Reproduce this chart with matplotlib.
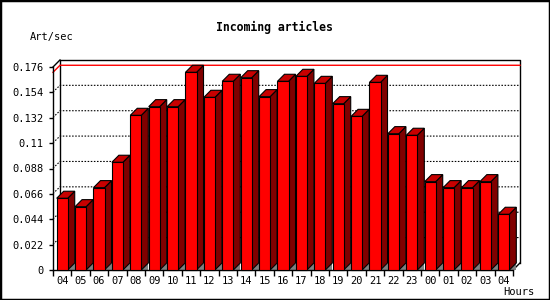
import matplotlib
matplotlib.use("Agg")
import matplotlib.pyplot as plt
from matplotlib.patches import Rectangle, Polygon

hours = ["04", "05", "06", "07", "08", "09", "10", "11", "12", "13", "14", "15",
         "16", "17", "18", "19", "20", "21", "22", "23", "00", "01", "02", "03", "04"]
art_per_sec = [0.0622, 0.0549, 0.0714, 0.0934, 0.1341, 0.1416, 0.1416, 0.1714,
               0.1497, 0.1636, 0.1667, 0.1503, 0.1636, 0.1679, 0.1618, 0.1442,
               0.1332, 0.1627, 0.1182, 0.1168, 0.0766, 0.0714, 0.0714, 0.0766, 0.0483]
yticks = [0, 0.022, 0.044, 0.066, 0.088, 0.11, 0.132, 0.154, 0.176]
ytick_labels = ["0", "0.022", "0.044", "0.066", "0.088", "0.11", "0.132", "0.154", "0.176"]

# depth of the fake 3d look (slot units / value units) and bar width
DX, DY = 0.38, 0.0061
BAR_W = 0.6
FONT = "DejaVu Sans Mono"

fig = plt.figure(figsize=(5.5, 3), dpi=100)
ax = fig.add_axes([53 / 550, 30 / 300, 460 / 550, 203 / 300])
n = len(hours)
ytop = yticks[-1]
ax.set_xlim(0, n)
ax.set_ylim(0, ytop)
ax.patch.set_visible(False)
ax.spines["top"].set_visible(False)
ax.spines["right"].set_visible(False)
ax.spines["left"].set_linewidth(1)
ax.spines["bottom"].set_linewidth(1)

# back wall
ax.plot([DX, DX, n + DX, n + DX], [DY, ytop + DY, ytop + DY, DY], color="black", lw=1, clip_on=False, zorder=1)
ax.plot([0, DX], [ytop, ytop + DY], color="black", lw=1, clip_on=False, zorder=1)
ax.plot([n, n + DX], [0, DY], color="black", lw=1, clip_on=False, zorder=1)

# dotted grid on the back wall
for t in yticks[1:-1]:
    ax.plot([0, DX, n + DX], [t + 0.0003, t + DY, t + DY], color="black", lw=0.8,
            ls=(0, (1.4, 1.4)), clip_on=False, zorder=1)

# red line at the maximum
top = max(art_per_sec)
ax.plot([0, DX, n + DX], [top, top + DY, top + DY], color="red", lw=1, clip_on=False, zorder=1.5)

for i, v in enumerate(art_per_sec):
    x0 = i + (1 - BAR_W) / 2
    x1 = x0 + BAR_W
    ax.add_patch(Polygon([(x1, 0), (x1 + DX, 0), (x1 + DX, DY)], closed=True,
                         fc="#808080", ec="none", zorder=2, clip_on=False))
    ax.add_patch(Polygon([(x1, 0), (x1 + DX, DY), (x1 + DX, v + DY), (x1, v)], closed=True,
                         fc="#800000", ec="black", lw=0.8, zorder=3, clip_on=False))
    ax.add_patch(Polygon([(x0, v), (x1, v), (x1 + DX, v + DY), (x0 + DX, v + DY)], closed=True,
                         fc="#c80000", ec="black", lw=0.8, zorder=3, clip_on=False))
    ax.add_patch(Rectangle((x0, 0), BAR_W, v, fc="#ff0000", ec="black", lw=0.8, zorder=3, clip_on=False))

ax.set_xticks(range(n + 1))
ax.set_xticklabels([])
ax.set_xticks([i + 0.5 for i in range(n)], minor=True)
ax.set_xticklabels(hours, minor=True, fontfamily=FONT, fontsize=7.5)
ax.tick_params(axis="x", which="major", direction="out", length=4, width=1)
ax.tick_params(axis="x", which="minor", length=0, pad=4)
ax.set_yticks(yticks)
ax.set_yticklabels(ytick_labels, fontfamily=FONT, fontsize=7.5)
ax.tick_params(axis="y", direction="out", length=3, width=1, pad=4)

fig.text(274 / 550, 1 - 27 / 300, "Incoming articles", ha="center", va="center",
         fontfamily=FONT, fontweight="bold", fontsize=8.3)
fig.text(30 / 550, 1 - 37 / 300, "Art/sec", ha="left", va="center", fontfamily=FONT, fontsize=7.5)
fig.text(534 / 550, 1 - 292 / 300, "Hours", ha="right", va="center", fontfamily=FONT, fontsize=7.5)

fig.patches.append(Rectangle((0, 0), 1, 1, transform=fig.transFigure, fill=False,
                             edgecolor="black", lw=2.5))

fig.savefig("out.png", dpi=100)
